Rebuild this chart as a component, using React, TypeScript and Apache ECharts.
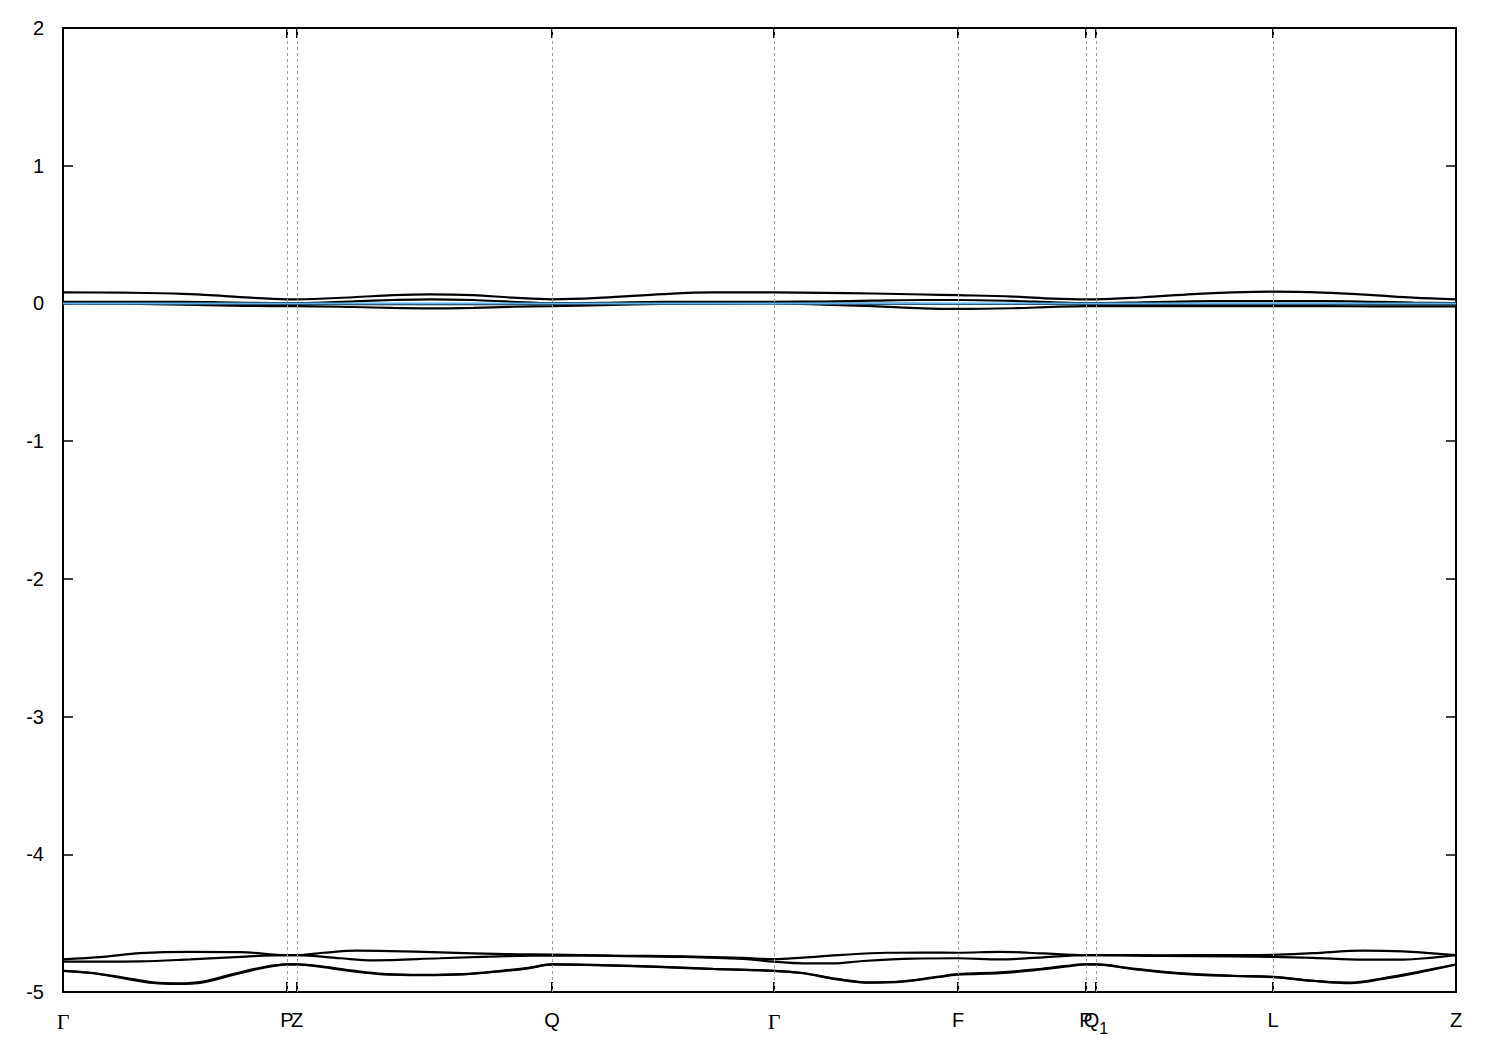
import React, { useEffect, useRef } from "react";
import * as echarts from "echarts";

// High-symmetry points along the k-path
const kPos = [0, 0.224, 0.234, 0.489, 0.711, 0.895, 1.023, 1.033, 1.21, 1.393];
const kLabels = ["Γ", "P", "Z", "Q", "Γ", "F", "P", "Q1", "L", "Z"];

// Energy range / ticks
const yMin = -5;
const yMax = 2;
const yStep = 1;

// Bands near 0 eV
const bandA: [number, number][] = [
  [0, 0.08], [0.06, 0.078], [0.12, 0.07], [0.17, 0.05], [0.224, 0.03], [0.234, 0.03],
  [0.29, 0.045], [0.33, 0.06], [0.367, 0.066], [0.41, 0.06], [0.45, 0.042], [0.489, 0.03],
  [0.54, 0.042], [0.6, 0.068], [0.65, 0.08], [0.711, 0.08], [0.76, 0.077], [0.81, 0.072],
  [0.86, 0.065], [0.895, 0.06], [0.95, 0.05], [0.99, 0.035], [1.023, 0.03], [1.033, 0.03],
  [1.08, 0.045], [1.13, 0.068], [1.17, 0.08], [1.21, 0.085], [1.26, 0.078], [1.31, 0.06],
  [1.35, 0.042], [1.393, 0.03],
];
const bandB: [number, number][] = [
  [0, 0.012], [0.06, 0.012], [0.12, 0.012], [0.17, 0.006], [0.224, 0.002], [0.234, 0.002],
  [0.29, 0.015], [0.33, 0.025], [0.367, 0.03], [0.41, 0.025], [0.45, 0.012], [0.489, 0.002],
  [0.54, 0.005], [0.6, 0.012], [0.65, 0.012], [0.711, 0.012], [0.76, 0.014], [0.81, 0.02],
  [0.86, 0.025], [0.895, 0.025], [0.95, 0.018], [0.99, 0.008], [1.023, 0.002], [1.033, 0.002],
  [1.08, 0.008], [1.13, 0.015], [1.17, 0.017], [1.21, 0.017], [1.26, 0.017], [1.31, 0.012],
  [1.35, 0.006], [1.393, 0.002],
];
const bandC: [number, number][] = [
  [0, 0.0], [0.12, -0.002], [0.224, -0.004], [0.234, -0.004], [0.367, -0.005], [0.489, -0.004],
  [0.6, -0.002], [0.711, 0.0], [0.81, -0.003], [0.895, -0.004], [1.023, -0.004], [1.033, -0.004],
  [1.21, -0.005], [1.393, -0.005],
];
const bandD: [number, number][] = [
  [0, 0.0], [0.06, -0.002], [0.12, -0.008], [0.17, -0.016], [0.224, -0.02], [0.234, -0.02],
  [0.29, -0.026], [0.33, -0.033], [0.367, -0.036], [0.41, -0.032], [0.45, -0.024], [0.489, -0.02],
  [0.54, -0.012], [0.6, -0.004], [0.65, -0.001], [0.711, 0.0], [0.76, -0.008], [0.81, -0.02],
  [0.86, -0.036], [0.895, -0.04], [0.95, -0.035], [0.99, -0.025], [1.023, -0.02], [1.033, -0.02],
  [1.08, -0.02], [1.13, -0.02], [1.17, -0.02], [1.21, -0.02], [1.26, -0.02], [1.31, -0.021],
  [1.35, -0.022], [1.393, -0.022],
];

// Bands near -4.8 eV
const bandE1: [number, number][] = [
  [0, -4.763], [0.04, -4.745], [0.077, -4.718], [0.127, -4.708], [0.177, -4.71], [0.224, -4.732],
  [0.234, -4.732], [0.26, -4.715], [0.294, -4.7], [0.327, -4.703], [0.377, -4.712], [0.444, -4.725],
  [0.489, -4.728], [0.55, -4.735], [0.62, -4.742], [0.68, -4.752], [0.711, -4.762], [0.74, -4.75],
  [0.78, -4.73], [0.824, -4.715], [0.86, -4.713], [0.895, -4.715], [0.937, -4.708], [0.98, -4.72],
  [1.023, -4.732], [1.033, -4.732], [1.1, -4.733], [1.17, -4.732], [1.21, -4.73], [1.25, -4.718],
  [1.3, -4.7], [1.34, -4.705], [1.37, -4.72], [1.393, -4.732],
];
const bandE2: [number, number][] = [
  [0, -4.78], [0.04, -4.78], [0.077, -4.778], [0.127, -4.763], [0.177, -4.745], [0.224, -4.732],
  [0.234, -4.732], [0.277, -4.755], [0.31, -4.77], [0.377, -4.755], [0.444, -4.74], [0.489, -4.735],
  [0.55, -4.738], [0.62, -4.745], [0.68, -4.76], [0.711, -4.78], [0.74, -4.792], [0.77, -4.792],
  [0.8, -4.775], [0.85, -4.758], [0.895, -4.755], [0.937, -4.763], [0.98, -4.748], [1.023, -4.732],
  [1.033, -4.732], [1.1, -4.738], [1.17, -4.742], [1.21, -4.745], [1.25, -4.752], [1.3, -4.765],
  [1.34, -4.765], [1.37, -4.75], [1.393, -4.732],
];
const bandL1: [number, number][] = [
  [0, -4.846], [0.03, -4.862], [0.06, -4.895], [0.09, -4.93], [0.115, -4.938], [0.14, -4.925],
  [0.17, -4.87], [0.2, -4.82], [0.224, -4.8], [0.234, -4.8], [0.26, -4.815], [0.29, -4.845],
  [0.32, -4.868], [0.36, -4.875], [0.4, -4.87], [0.44, -4.845], [0.465, -4.825], [0.489, -4.8],
  [0.54, -4.805], [0.6, -4.818], [0.65, -4.832], [0.711, -4.846], [0.74, -4.862], [0.774, -4.905],
  [0.807, -4.93], [0.84, -4.922], [0.874, -4.89], [0.895, -4.87], [0.937, -4.858], [0.97, -4.838],
  [1.004, -4.81], [1.023, -4.8], [1.033, -4.8], [1.07, -4.83], [1.12, -4.865], [1.17, -4.882],
  [1.21, -4.89], [1.254, -4.92], [1.287, -4.932], [1.32, -4.9], [1.354, -4.855], [1.393, -4.8],
];
const bandL2: [number, number][] = [
  [0, -4.846], [0.03, -4.864], [0.06, -4.9], [0.09, -4.934], [0.115, -4.942], [0.14, -4.93],
  [0.17, -4.876], [0.2, -4.826], [0.224, -4.8], [0.234, -4.8], [0.26, -4.82], [0.29, -4.851],
  [0.32, -4.872], [0.36, -4.878], [0.4, -4.872], [0.44, -4.848], [0.465, -4.828], [0.489, -4.8],
  [0.54, -4.806], [0.6, -4.819], [0.65, -4.833], [0.711, -4.846], [0.74, -4.864], [0.774, -4.908],
  [0.807, -4.933], [0.84, -4.925], [0.874, -4.893], [0.895, -4.874], [0.937, -4.863], [0.97, -4.843],
  [1.004, -4.814], [1.023, -4.8], [1.033, -4.8], [1.07, -4.834], [1.12, -4.868], [1.17, -4.884],
  [1.21, -4.892], [1.254, -4.922], [1.287, -4.935], [1.32, -4.905], [1.354, -4.861], [1.393, -4.8],
];

// Fermi level
const fermi: [number, number][] = [[0, 0], [1.393, 0]];

const bands = [bandA, bandB, bandC, bandD, bandE1, bandE2, bandL1, bandL2];

function labelFor(v: number): string {
  const i = kPos.findIndex((p) => Math.abs(p - v) < 1e-6);
  if (i < 0) return "";
  const l = kLabels[i];
  if (l === "Γ") return "{g|Γ}";
  if (l === "Q1") return "{q|Q}{s|1}";
  return "{n|" + l + "}";
}

export default function App() {
  const ref = useRef<HTMLDivElement>(null);
  useEffect(() => {
    document.body.style.margin = "0";
    if (!ref.current) return;
    const chart = echarts.init(ref.current, undefined, { renderer: "svg" });
    const font = "Liberation Sans";
    const xTickBase = {
      show: true,
      inside: true,
      length: 10,
      customValues: kPos,
      lineStyle: { color: "#000", width: 2 },
    };
    const yTickBase = {
      show: true,
      inside: true,
      length: 10,
      lineStyle: { color: "#000", width: 1.5 },
    };
    const series: any[] = [
      {
        type: "line",
        data: fermi,
        lineStyle: { opacity: 0 },
        showSymbol: false,
        silent: true,
        z: 1,
        markLine: {
          silent: true,
          precision: 6,
          symbol: ["none", "none"],
          label: { show: false },
          lineStyle: { color: "#a0a0a0", width: 1, type: [3, 3] },
          data: kPos.slice(1, -1).map((k) => ({ xAxis: k })),
        },
      },
    ];
    bands.forEach((b) => {
      series.push({
        type: "line",
        data: b,
        smooth: 0.35,
        showSymbol: false,
        lineStyle: { color: "#000", width: 2.2 },
        z: 2,
      });
    });
    series.push({
      type: "line",
      data: fermi,
      showSymbol: false,
      lineStyle: { color: "#56b4e9", width: 2 },
      z: 3,
    });
    chart.setOption({
      animation: false,
      backgroundColor: "#fff",
      grid: {
        left: 63,
        top: 28,
        width: 1393,
        height: 964,
        show: true,
        borderColor: "#000",
        borderWidth: 2,
        backgroundColor: "transparent",
      },
      xAxis: [
        {
          type: "value",
          min: kPos[0],
          max: kPos[kPos.length - 1],
          position: "bottom",
          axisLine: { show: false, onZero: false },
          splitLine: { show: false },
          axisTick: xTickBase,
          axisLabel: {
            show: true,
            customValues: kPos,
            margin: 18,
            color: "#000",
            fontFamily: font,
            fontSize: 20,
            verticalAlign: "top",
            formatter: labelFor,
            rich: {
              n: { fontFamily: font, fontSize: 20, color: "#000" },
              g: { fontFamily: "Liberation Serif", fontSize: 22, color: "#000" },
              q: { fontFamily: font, fontSize: 20, color: "#000", verticalAlign: "top", lineHeight: 26 },
              s: { fontFamily: font, fontSize: 16, color: "#000", verticalAlign: "bottom", lineHeight: 26 },
            },
          },
        },
        {
          type: "value",
          min: kPos[0],
          max: kPos[kPos.length - 1],
          position: "top",
          axisLine: { show: false, onZero: false },
          splitLine: { show: false },
          axisTick: xTickBase,
          axisLabel: { show: false },
        },
      ],
      yAxis: [
        {
          type: "value",
          min: yMin,
          max: yMax,
          interval: yStep,
          position: "left",
          axisLine: { show: false, onZero: false },
          splitLine: { show: false },
          axisTick: yTickBase,
          axisLabel: {
            margin: 19,
            color: "#000",
            fontFamily: font,
            fontSize: 20,
          },
        },
        {
          type: "value",
          min: yMin,
          max: yMax,
          interval: yStep,
          position: "right",
          axisLine: { show: false, onZero: false },
          splitLine: { show: false },
          axisTick: yTickBase,
          axisLabel: { show: false },
        },
      ],
      series,
    });
    return () => chart.dispose();
  }, []);
  return <div ref={ref} style={{ width: 1500, height: 1050 }} />;
}
